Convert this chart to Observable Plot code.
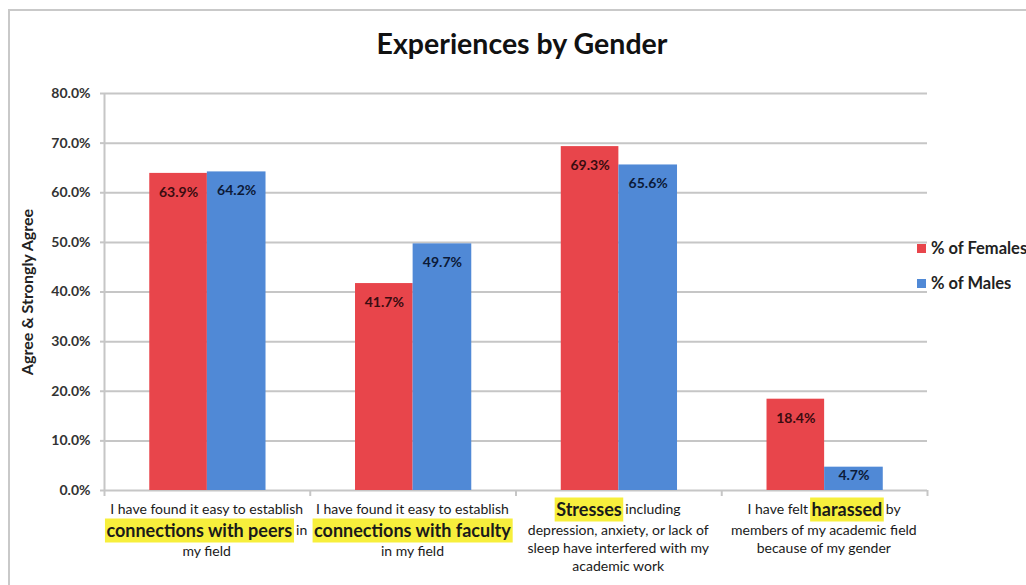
<!DOCTYPE html>
<html>
<head>
<meta charset="utf-8">
<script src="https://cdn.jsdelivr.net/npm/d3@7"></script>
<script src="https://cdn.jsdelivr.net/npm/@observablehq/plot@0.6"></script>
<style>
  html, body { margin: 0; padding: 0; background: #fff; overflow: hidden; }
  #root { position: relative; width: 1026px; height: 585px; overflow: hidden; font-family: Lato, sans-serif; }
  #frame { position: absolute; left: 8px; top: 9px; width: 1200px; height: 800px; border-left: 2px solid #c9c9c9; border-top: 2px solid #c9c9c9; pointer-events: none; }
  #title { height: 76px; box-sizing: border-box; padding-top: 26px; padding-left: 18px; line-height: 34px; text-align: center; font-weight: bold; font-size: 28.5px; color: #111; }
  #legend { position: absolute; left: 917px; top: 238px; }
  .lg-swatch { margin-bottom: 14px !important; }
  .lg-swatch svg { margin-right: 5px !important; }
</style>
</head>
<body>
<div id="root">
  <div id="frame"></div>
  <div id="title">Experiences by Gender</div>
  <div id="chart"></div>
  <div id="legend"></div>
</div>
<script>
// ---- data ----
const categories = ["connections with peers", "connections with faculty", "Stresses", "harassed"];
const tickLabels = [
  ["I have found it easy to establish", "**connections with peers** in", "my field"],
  ["I have found it easy to establish", "**connections with faculty**", "in my field"],
  ["**Stresses** including", "depression, anxiety, or lack of", "sleep have interfered with my", "academic work"],
  ["I have felt **harassed** by", "members of my academic field", "because of my gender"]
];
const genders = ["% of Females", "% of Males"];
const females = [63.9, 41.7, 69.3, 18.4];
const males = [64.2, 49.7, 65.6, 4.7];
const yTicks = [0, 10, 20, 30, 40, 50, 60, 70, 80];
const xBounds = [0, 1, 2, 3, 4];
const yTitle = "Agree & Strongly Agree";

// ---- styles ----
const colors = ["#e8454b", "#5089d6"];
const labelColors = ["#3a0c10", "#0c1a38"];
const gridColor = "#c6c6c6";

// ---- table ----
const rows = categories.flatMap((c, i) => [
  {i, cat: c, g: genders[0], v: females[i]},
  {i, cat: c, g: genders[1], v: males[i]}
]);
const isF = d => d.g === genders[0];
const x1 = d => d.i + (isF(d) ? 0.22 : 0.5);
const x2 = d => d.i + (isF(d) ? 0.5 : 0.785);
const xc = d => (x1(d) + x2(d)) / 2;

// label line rows
const sizeNormal = 14, sizeHl = 18;
const fontNormal = `${sizeNormal}px Lato`;
const fontHl = `bold ${sizeHl}px Lato`;
const lineRows = [];
tickLabels.forEach((lines, i) => {
  let off = 19.5, prevH = null;
  lines.forEach((line, k) => {
    const parts = line.split("**");
    const segs = parts.map((t, j) => ({t, hl: j % 2 === 1})).filter(s => s.t.length);
    const h = segs.some(s => s.hl) ? 24 : 18;
    if (prevH !== null) off += prevH / 2 + h / 2;
    prevH = h;
    lineRows.push({i, k, segs, off, text: line.replace(/\*\*/g, "")});
  });
});

const mctx = document.createElement("canvas").getContext("2d");
function measure(t, font) { mctx.font = font; return mctx.measureText(t).width; }

function richLabels(data, options) {
  return Plot.text(data, {
    ...options,
    render(index, scales, values, dimensions, context) {
      const ns = "http://www.w3.org/2000/svg";
      const doc = context.document;
      const g = doc.createElementNS(ns, "g");
      g.setAttribute("text-anchor", "start");
      for (const n of index) {
        const row = data[n];
        const cx = values.x[n];
        const cy = scales.y(0) + row.off;
        const widths = row.segs.map(s => measure(s.t, s.hl ? fontHl : fontNormal));
        const total = d3.sum(widths);
        let x = cx - total / 2;
        row.segs.forEach((s, j) => {
          if (s.hl) {
            const r = doc.createElementNS(ns, "rect");
            r.setAttribute("x", x - 1.5);
            r.setAttribute("y", cy - 12);
            r.setAttribute("width", widths[j] + 3);
            r.setAttribute("height", 24);
            r.setAttribute("fill", "#f7ef3c");
            g.appendChild(r);
          }
          const t = doc.createElementNS(ns, "text");
          t.setAttribute("x", x);
          t.setAttribute("y", cy);
          t.setAttribute("dy", "0.35em");
          t.setAttribute("text-anchor", "start");
          t.setAttribute("fill", "#1a1a1a");
          t.setAttribute("font-family", "Lato");
          t.setAttribute("font-size", s.hl ? sizeHl : sizeNormal);
          t.setAttribute("font-weight", s.hl ? "bold" : "normal");
          t.style.whiteSpace = "pre";
          t.textContent = s.t;
          g.appendChild(t);
          x += widths[j];
        });
      }
      return g;
    }
  });
}

const fmt = v => v.toFixed(1) + "%";
const big = rows.filter(d => d.v >= 8);
const small = rows.filter(d => d.v < 8);

const chart = Plot.plot({
  width: 1026,
  height: 509,
  marginTop: 17,
  marginBottom: 95,
  marginLeft: 104,
  marginRight: 99,
  style: {fontFamily: "Lato", overflow: "visible", background: "transparent"},
  x: {domain: [0, 4], axis: null},
  y: {domain: [0, 80], axis: null},
  color: {domain: genders, range: colors},
  marks: [
    Plot.gridY(yTicks, {stroke: gridColor, strokeOpacity: 1, strokeWidth: 2}),
    Plot.ruleX([0], {y1: 0, y2: 80, stroke: gridColor, strokeWidth: 2}),
    Plot.axisY(yTicks, {tickSize: 4, tickPadding: 10, tickFormat: fmt, fontWeight: "bold", fontSize: 14, fill: "#333", stroke: gridColor, strokeWidth: 2, label: null}),
    Plot.axisX(xBounds, {tickSize: 6, tickFormat: () => "", stroke: gridColor, strokeWidth: 2, label: null}),
    Plot.rectY(rows, {x1, x2, y1: 0, y2: "v", fill: "g"}),
    Plot.text(big.filter(isF), {x: xc, y: "v", dy: 19, text: d => fmt(d.v), fill: labelColors[0], fontWeight: "bold", fontSize: 14}),
    Plot.text(big.filter(d => !isF(d)), {x: xc, y: "v", dy: 19, text: d => fmt(d.v), fill: labelColors[1], fontWeight: "bold", fontSize: 14}),
    Plot.text(small, {x: xc, y: d => d.v / 2, dy: -3, text: d => fmt(d.v), fill: labelColors[1], fontWeight: "bold", fontSize: 14}),
    richLabels(lineRows, {x: d => d.i + 0.5, y: () => 0, text: "text"}),
    Plot.text([yTitle], {frameAnchor: "left", textAnchor: "middle", rotate: -90, dx: -77, text: d => d, fontWeight: "bold", fontSize: 16, fill: "#222"})
  ]
});
document.getElementById("chart").appendChild(chart);

const legend = Plot.legend({
  color: {domain: genders, range: colors},
  legend: "swatches",
  columns: 1,
  swatchSize: 9,
  className: "lg",
  style: {fontFamily: "Lato", fontWeight: "bold", fontSize: "16.5px", color: "#222"}
});
document.getElementById("legend").appendChild(legend);
</script>
</body>
</html>
